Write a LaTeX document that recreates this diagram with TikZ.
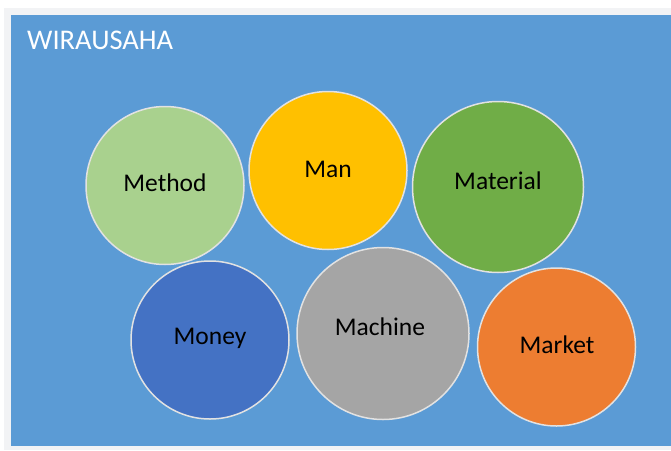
\documentclass[tikz,border=0pt]{standalone}
\usepackage{fontspec}
\setmainfont{Carlito}
\definecolor{bgblue}{HTML}{5B9BD5}
\definecolor{framegray}{HTML}{F2F3F5}
\definecolor{cmethod}{HTML}{A9D18E}
\definecolor{cman}{HTML}{FFC000}
\definecolor{cmaterial}{HTML}{70AD47}
\definecolor{cmoney}{HTML}{4472C4}
\definecolor{cmachine}{HTML}{A5A5A5}
\definecolor{cmarket}{HTML}{ED7D31}
\definecolor{rimgray}{HTML}{E2E2E2}
\begin{document}
\begin{tikzpicture}[x=1pt,y=-1pt,
  bubble/.style={circle,draw=rimgray,line width=1.5pt,inner sep=0pt},
  lbl/.style={inner sep=0pt,text=black,font=\fontsize{25.5}{30}\selectfont}]
\useasboundingbox (0,0) rectangle (671,450);
\fill[white] (0,0) rectangle (671,450);
\fill[framegray] (4,8) rectangle (671,450);
\fill[bgblue] (11,15) rectangle (671,446);
\node[anchor=north west,inner sep=0pt,text=white,font=\fontsize{28.5}{34}\selectfont] (title) at (27,31) {WIRAUSAHA};
\node[bubble,fill=cmethod,minimum size=158pt] (method) at (165,185.5) {};
\node[lbl] (methodt) at (165,183) {Method};
\node[bubble,fill=cman,minimum size=158pt] (man) at (328,170.5) {};
\node[lbl] (mant) at (328,169) {Man};
\node[bubble,fill=cmaterial,minimum size=171pt] (material) at (498,187) {};
\node[lbl] (materialt) at (498,181) {Material};
\node[bubble,fill=cmoney,minimum size=158pt] (money) at (210,340) {};
\node[lbl] (moneyt) at (210,338) {Money};
\node[bubble,fill=cmachine,minimum size=172pt] (machine) at (383,333.5) {};
\node[lbl] (machinet) at (380,327) {Machine};
\node[bubble,fill=cmarket,minimum size=158pt] (market) at (556.5,347) {};
\node[lbl] (markett) at (557,345) {Market};
\end{tikzpicture}
\end{document}
